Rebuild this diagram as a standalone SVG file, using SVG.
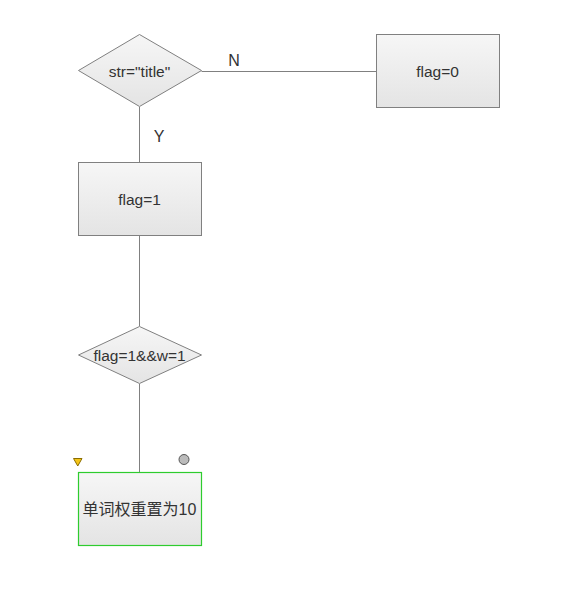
<svg xmlns="http://www.w3.org/2000/svg" width="564" height="608" viewBox="0 0 564 608">
<defs>
<linearGradient id="g" x1="0" y1="0" x2="0" y2="1">
<stop offset="0" stop-color="#f6f6f6"/>
<stop offset="1" stop-color="#e4e4e4"/>
</linearGradient>
<style>
.s{fill:url(#g);stroke:#808080;stroke-width:1}
.t{font-family:"Liberation Sans","Noto Sans CJK SC",Arial,sans-serif;font-size:15.5px;fill:#333;text-anchor:middle;dominant-baseline:central}
.l{font-family:"Liberation Sans",Arial,sans-serif;font-size:16px;fill:#333;text-anchor:middle;dominant-baseline:central}
.c{fill:none;stroke:#808080;stroke-width:1}
</style>
</defs>
<rect width="564" height="608" fill="#fff"/>
<g id="connectors">
<path class="c" d="M201.5 71.5H376.5"/>
<path class="c" d="M139.5 107V162"/>
<path class="c" d="M139.5 236V326"/>
<path class="c" d="M139.5 384V472"/>
<text class="l" x="234" y="60">N</text>
<text class="l" x="159" y="136">Y</text>
</g>
<g id="d1">
<polygon class="s" points="139.5,34.5 201.5,70.5 139.5,106.5 78.5,70.5"/>
<text class="t" x="139.5" y="71">str="title"</text>
</g>
<g id="b0">
<rect class="s" x="376.5" y="34.5" width="123" height="73"/>
<text class="t" x="437.5" y="71">flag=0</text>
</g>
<g id="b1">
<rect class="s" x="78.5" y="162.5" width="123" height="73"/>
<text class="t" x="139.5" y="199">flag=1</text>
</g>
<g id="d2">
<polygon class="s" points="139.5,326.5 201.5,355 139.5,383.5 78.5,355"/>
<text class="t" x="139.5" y="355">flag=1&amp;&amp;w=1</text>
</g>
<g id="b2">
<rect x="78.5" y="472.5" width="123" height="73" fill="url(#g)" stroke="#2ecc2e" stroke-width="1.2"/>
<text class="t" x="139.5" y="509" style="font-size:16px">单词权重置为10</text>
<polygon points="73.5,458.5 82,458.5 77.75,466" fill="#f5c518" stroke="#8a6d00" stroke-width="1"/>
<circle cx="184" cy="459.5" r="5" fill="#bbb" stroke="#555" stroke-width="1"/>
</g>
</svg>
